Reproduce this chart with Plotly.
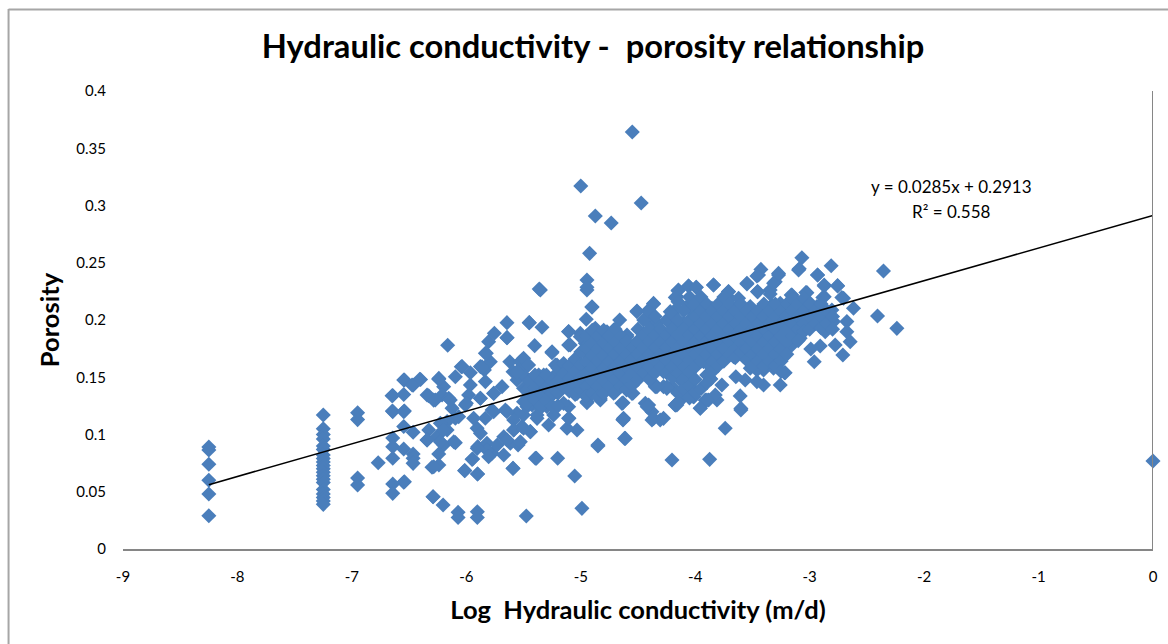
import plotly.graph_objects as go

title = "Hydraulic conductivity -\u00a0 porosity relationship"
x_title = "Log\u00a0 Hydraulic conductivity (m/d)"
y_title = "Porosity"
x_ticks = [-9, -8, -7, -6, -5, -4, -3, -2, -1, 0]
y_ticks = [0, 0.05, 0.1, 0.15, 0.2, 0.25, 0.3, 0.35, 0.4]
y_tick_labels = ["0", "0.05", "0.1", "0.15", "0.2", "0.25", "0.3", "0.35", "0.4"]
trend_x = [-8.25, 0]
trend_y = [0.0562, 0.2913]

column_m825 = [.089, .0865, .074, .060, .048, .029]
column_m725 = [.117, .105, .100, .096, .090, .087, .082, .079, .076, .073, .070, .067,
               .064, .061, .058, .052, .048, .045, .042, .039]
column_m695 = [.119, .113, .062, .056]

outliers = [(-4.55, .3642), (-5, .317), (-4.873, .2908), (-4.734, .2847), (-4.472, .3022),
            (0, .0769), (-5.363, .2271), (-2.355, .2428), (-2.407, .2035), (-2.238, .1927)]

low_k = [(-6.77, .0754), (-6.643, .134), (-6.547, .1476), (-6.40, .148), (-6.465, .143), (-6.547, .135),
         (-6.643, .120), (-6.547, .120), (-6.547, .107), (-6.465, .102), (-6.643, .097), (-6.643, .0894),
         (-6.547, .0874), (-6.643, .0792), (-6.465, .083), (-6.465, .0792), (-6.465, .0748), (-6.547, .0583),
         (-6.643, .0568), (-6.643, .0486), (-6.29, .0457), (-6.203, .0385), (-6.072, .032), (-6.072, .0275),
         (-5.904, .0326), (-5.904, .0275), (-5.476, .0288), (-6.24, .149), (-6.096, .1505), (-6.037, .1593),
         (-5.965, .154), (-6.163, .178), (-6.343, .1345), (-6.285, .130), (-6.198, .1418), (-6.212, .1345),
         (-6.154, .1316), (-6.125, .123), (-6.008, .1258), (-5.98, .1345), (-5.965, .1433), (-5.877, .1316),
         (-6.096, .1142), (-6.168, .1113), (-6.328, .104), (-6.343, .0952), (-6.256, .098), (-6.168, .104),
         (-6.198, .0909), (-6.096, .0929), (-6.241, .083), (-6.30, .0714), (-6.24, .0734), (-6.014, .0685),
         (-5.903, .0655), (-5.944, .0786), (-5.90, .0894), (-5.82, .0923), (-5.775, .0836), (-5.673, .0821),
         (-5.548, .0909), (-5.592, .0705), (-5.397, .0792), (-5.906, .1054), (-5.877, .101), (-5.834, .1142),
         (-5.936, .1142), (-5.775, .1214), (-5.659, .1214), (-5.688, .1418), (-5.76, .136), (-5.834, .1462),
         (-5.842, .1564), (-5.877, .1593), (-5.79, .1636), (-5.834, .171), (-5.805, .1811), (-5.755, .1884),
         (-5.644, .1846), (-5.62, .1636), (-5.513, .165), (-5.47, .1607), (-5.592, .1549), (-5.403, .1776),
         (-5.557, .1476), (-5.44, .1476), (-5.50, .1404), (-5.368, .152), (-5.50, .1287), (-5.557, .1185),
         (-5.426, .1258), (-5.586, .1127), (-5.673, .098), (-5.586, .104), (-5.513, .1069), (-5.44, .1025),
         (-5.615, .0923), (-5.50, .117), (-6.227, .1098), (-5.82, .0865), (-5.73, .0909), (-5.382, .117),
         (-5.645, .1977), (-5.45, .1977), (-5.645, .1846), (-5.825, .1709), (-6.044, .1592), (-5.863, .1592),
         (-6.407, .1482), (-6.541, .1476), (-6.474, .1432), (-6.649, .1339), (-6.646, .1205), (-6.541, .1205),
         (-6.241, .1482), (-6.329, .1339), (-6.271, .1301), (-6.14, .1301), (-5.878, .1316), (-5.761, .1359),
         (-6, .1272), (-6.067, .1156), (-5.761, .1199), (-5.645, .1199), (-6.291, .0457), (-6.541, .0588),
         (-6.285, .0719), (-5.905, .0879), (-5.95, .0783), (-6.11, .0937), (-6.227, .0937), (-6.343, .0952),
         (-6.2, .104), (-5.644, .0952), (-5.586, .1039), (-5.805, .0806), (-5.592, .0704), (-5.388, .0792),
         (-5.202, .0792), (-5.053, .0637), (-4.99, .0355), (-6.014, .0684), (-5.901, .0655)]

mid_band = [(-5.353, .2262), (-5.45, .1977), (-5.339, .1936), (-4.902, .2116), (-4.952, .2006), (-4.946, .2262),
            (-4.66, .2), (-5.106, .19), (-5.004, .1884), (-4.873, .1927), (-4.771, .1898), (-4.596, .1869),
            (-5.106, .1782), (-5.251, .1723), (-5.033, .1636), (-5.222, .1607), (-4.96, .1796), (-4.858, .1825),
            (-4.742, .181), (-4.655, .1796), (-4.946, .1694), (-4.829, .1709), (-4.713, .1694), (-4.596, .1709),
            (-4.509, .181), (-4.509, .2073), (-4.407, .2087), (-4.364, .214), (-4.407, .1985), (-4.334, .1971),
            (-4.451, .1884), (-4.334, .1854), (-4.218, .1898), (-4.218, .2073), (-4.16, .2102), (-4.058, .2131),
            (-3.927, .2116), (-4.16, .2204), (-4.1, .1971), (-3.985, .1985), (-3.87, .2015), (-3.81, .1971),
            (-4.306, .1738), (-4.422, .1767), (-4.189, .1782), (-4.072, .1796), (-3.956, .1825), (-3.825, .1854),
            (-4.072, .168), (-3.956, .1709), (-3.81, .1738), (-4.247, .1665), (-4.364, .1622), (-4.48, .1592),
            (-4.625, .1563), (-4.742, .1563), (-4.858, .1563), (-4.975, .1549), (-5.091, .1534), (-5.208, .1534),
            (-5.324, .152), (-5.528, .1636), (-5.484, .1592), (-5.484, .1505), (-5.47, .1389), (-5.382, .1418),
            (-5.193, .1418), (-5.295, .1389), (-4.975, .1447), (-4.858, .1432), (-4.742, .1447), (-4.625, .1476),
            (-4.509, .1476), (-4.393, .1563), (-4.277, .1549), (-4.16, .1563), (-4.043, .1578), (-3.927, .1636),
            (-4.043, .1476), (-4.131, .1476), (-4.349, .1418), (-4.277, .1418), (-4.203, .1418), (-4.101, .1374),
            (-4.014, .133), (-4.16, .1258), (-3.956, .1229), (-3.883, .1301), (-3.81, .1301), (-4.436, .1272),
            (-4.378, .1199), (-4.378, .1127), (-4.306, .1127), (-4.631, .1278), (-4.544, .136), (-4.946, .1287),
            (-4.829, .1301), (-4.713, .136), (-4.631, .1132), (-5.033, .1039), (-5.12, .1054), (-5.106, .1141),
            (-5.106, .1243), (-5.281, .1083), (-5.382, .1141), (-5.441, .1025), (-5.5, .1054), (-5.528, .0937),
            (-5.47, .1243), (-5.353, .1229), (-5.237, .117), (-5.15, .1272), (-5.266, .133), (-4.617, .0966),
            (-4.85, .0908), (-5.033, .136), (-3.869, .149), (-3.854, .2102), (-4.923, .2582), (-4.946, .2349),
            (-4.946, .2285), (-4.902, .2111), (-5.106, .1898), (-5.252, .1715), (-5.092, .1782), (-5.5, .1665),
            (-5.456, .1607), (-5.557, .1549), (-5.208, .1607), (-5.47, .1272), (-5.354, .1301), (-5.237, .1359),
            (-5.121, .1418), (-5.004, .1476), (-4.888, .1534), (-4.771, .1563), (-4.655, .1622), (-4.538, .1622),
            (-4.422, .1651), (-4.306, .168), (-4.19, .1709), (-4.073, .168), (-3.985, .1738), (-4.509, .2079),
            (-4.378, .2014), (-4.166, .2204), (-4.146, .2262), (-4.058, .2297), (-3.991, .2285), (-5.004, .1854),
            (-4.888, .1913), (-4.713, .1913), (-4.597, .1854), (-4.859, .1796), (-4.713, .1796), (-4.83, .165),
            (-4.713, .168), (-4.48, .1738), (-4.335, .1825), (-4.19, .1884), (-4.044, .1942), (-4.044, .2087),
            (-4.19, .1942), (-3.956, .2), (-4.946, .1278), (-4.83, .1316), (-4.64, .1272), (-4.553, .1359),
            (-4.407, .1258), (-4.35, .1432), (-4.248, .1403), (-4.175, .1258), (-4.015, .133), (-4.626, .1141),
            (-4.364, .1141), (-4.277, .1141), (-5.034, .1359), (-4.888, .1418), (-4.713, .1447), (-4.538, .1476),
            (-4.393, .1563), (-4.218, .1592), (-4.044, .1592), (-5.103, .1141), (-5.295, .1243), (-4.85, .09),
            (-4.631, .1126), (-4.611, .0966), (-4.203, .0777), (-3.874, .0783)]

high_k = [(-3.84, .2306), (-3.548, .2321), (-3.447, .2393), (-3.272, .2393), (-3.455, .2248), (-3.345, .2262),
          (-3.301, .2335), (-3.097, .2437), (-2.931, .2393), (-2.873, .2306), (-2.756, .23), (-3.709, .2248),
          (-3.7, .219), (-3.155, .2219), (-3.024, .2239), (-2.873, .2204), (-2.704, .219), (-2.617, .2102),
          (-2.675, .1986), (-2.675, .1898), (-2.646, .1811), (-2.777, .1782), (-2.71, .1695), (-2.864, .1898),
          (-2.908, .1773), (-2.99, .1747), (-2.96, .1636), (-3.083, .184), (-3.17, .1767), (-3.22, .154),
          (-3.257, .1433), (-3.403, .1433), (-3.461, .1462), (-3.563, .1476), (-3.645, .1505), (-3.403, .1564),
          (-3.519, .1578), (-3.607, .1337), (-3.601, .1214), (-3.767, .1433), (-3.825, .1345), (-3.912, .13),
          (-3.956, .1229), (-3.863, .1485), (-3.738, .1054), (-3.752, .1709), (-3.665, .168), (-3.578, .168),
          (-3.461, .168), (-3.257, .168), (-3.374, .1651), (-3.869, .1593), (-3.927, .168), (-3.869, .1738),
          (-3.781, .1797), (-3.665, .1782), (-3.519, .1782), (-3.374, .1767), (-3.272, .1797), (-3.752, .1913),
          (-3.636, .2), (-3.519, .1913), (-3.403, .1884), (-3.257, .1884), (-3.869, .1942), (-3.898, .2059),
          (-3.781, .2088), (-3.636, .2117), (-3.519, .2117), (-3.403, .2059), (-3.286, .2102), (-3.17, .2044),
          (-3.053, .2088), (-2.937, .2117), (-2.806, .2088), (-2.792, .1986), (-2.937, .1986), (-3.053, .1957),
          (-3.17, .1942), (-2.995, .2146), (-3.112, .216), (-3.257, .2146), (-3.33, .2131), (-3.621, .219),
          (-3.781, .2146), (-3.316, .1578), (-3.068, .2544), (-3.091, .2448), (-2.812, .2474), (-2.931, .2393),
          (-2.873, .2297), (-2.756, .2297), (-3.426, .2442), (-3.461, .2384), (-3.548, .2314), (-3.84, .2305),
          (-4.058, .2297), (-3.991, .2285), (-4.151, .2256), (-4.174, .2197), (-4.364, .2145), (-3.272, .2407),
          (-3.315, .232), (-3.345, .2227), (-3.455, .2247), (-3.709, .2247), (-3.161, .2218), (-3.033, .224),
          (-2.885, .2197), (-2.719, .2197), (-3.214, .154), (-3.461, .1563), (-3.601, .1228), (-3.898, .13),
          (-4.1, .133), (-4.174, .1257), (-4.014, .133), (-4.247, .1417), (-4.335, .1417), (-4.42, .1243)]

core_columns = [
    (-5.45, [.147, .136]), (-5.40, [.152, .141, .13]), (-5.35, [.147, .136, .125]), (-5.30, [.152, .141, .13]),
    (-5.25, [.147, .136, .125]), (-5.20, [.158, .147, .136, .125]), (-5.15, [.162, .153, .142]),
    (-5.10, [.16, .149, .138]), (-5.05, [.166, .155, .144, .135]), (-5.00, [.172, .161, .15, .139]),
    (-4.95, [.186, .175, .164, .153, .142, .133]), (-4.90, [.191, .18, .169, .158, .147, .136]),
    (-4.85, [.186, .175, .164, .153, .142, .133]), (-4.80, [.191, .18, .169, .158, .147, .136]),
    (-4.75, [.186, .175, .164, .153, .142]), (-4.70, [.192, .181, .17, .159, .148, .137]),
    (-4.65, [.186, .175, .164, .153, .142]), (-4.60, [.181, .17, .159, .148, .139]),
    (-4.55, [.176, .165, .154, .143]), (-4.50, [.192, .181, .17, .159, .148]),
    (-4.45, [.2, .187, .176, .165, .154]), (-4.40, [.207, .192, .181, .17, .159, .148]),
    (-4.35, [.203, .187, .176, .165, .154]), (-4.30, [.192, .181, .17, .159]),
    (-4.25, [.2, .187, .176, .165, .154]), (-4.20, [.205, .192, .181, .17, .159, .15]),
    (-4.15, [.216, .2, .187, .176, .165, .154, .136, .128]), (-4.10, [.208, .192, .181, .17, .159, .148, .14]),
    (-4.05, [.22, .2, .187, .176, .165, .154, .143, .132]), (-4.00, [.214, .203, .192, .181, .17, .159, .148, .137]),
    (-3.95, [.22, .208, .197, .186, .175, .164, .14]), (-3.90, [.214, .203, .192, .181, .17, .152, .145]),
    (-3.85, [.208, .197, .186, .175, .164, .155]), (-3.80, [.214, .203, .192, .181, .17, .16]),
    (-3.75, [.22, .208, .197, .186, .175, .164]), (-3.70, [.214, .203, .192, .181, .17]),
    (-3.65, [.208, .197, .186, .175, .167]), (-3.60, [.214, .203, .192, .181, .172]),
    (-3.55, [.208, .197, .186, .175, .165]), (-3.50, [.203, .192, .181, .17, .16]),
    (-3.45, [.208, .197, .186, .175, .164]), (-3.40, [.214, .203, .192, .181, .17, .16]),
    (-3.35, [.208, .197, .186, .175, .164]), (-3.30, [.214, .203, .192, .181, .17, .16]),
    (-3.25, [.208, .197, .186, .175, .164, .155]), (-3.20, [.214, .203, .192, .181, .17]),
    (-3.15, [.219, .208, .197, .186]), (-3.10, [.214, .203, .192, .182]), (-3.05, [.219, .208, .197, .19]),
    (-3.00, [.214, .203, .192]), (-2.95, [.208, .197]), (-2.90, [.214, .203, .193]), (-2.85, [.208, .197]),
    (-2.80, [.203, .192]),
]

points = low_k + mid_band + high_k + outliers
log_k = [p[0] for p in points] + [-8.25] * len(column_m825) + [-7.25] * len(column_m725) + [-6.95] * len(column_m695)
porosity = [p[1] for p in points] + column_m825 + column_m725 + column_m695
for col_x, col_ys in core_columns:
    log_k += [col_x] * len(col_ys)
    porosity += col_ys

FONT = "Lato, Carlito, Calibri, sans-serif"
L, R, T, B = 122.5, 1153.0, 91.0, 549.0
W, H = 1168, 644

fig = go.Figure()
fig.add_trace(go.Scatter(x=log_k, y=porosity, mode="markers", showlegend=False, cliponaxis=False,
                         marker=dict(symbol="diamond", size=11.6, color="#4A7EBB", line=dict(width=0))))
fig.add_trace(go.Scatter(x=trend_x, y=trend_y, mode="lines", showlegend=False, cliponaxis=False,
                         line=dict(color="#000000", width=1.6)))

px = lambda v: (v - L) / (R - L)
py = lambda v: (B - v) / (B - T)
fig.update_layout(
    width=W, height=H, autosize=False,
    margin=dict(l=L, r=W - R, t=T, b=H - B, pad=0),
    paper_bgcolor="white", plot_bgcolor="white",
    font=dict(family=FONT, size=14, color="#000000"),
    title=dict(text="<b>" + title + "</b>", x=593 / W, y=1 - 47 / H, xanchor="center", yanchor="middle",
               font=dict(family=FONT, size=32.7, color="#000000")),
    xaxis=dict(range=[-9, 0], tickmode="array", tickvals=x_ticks, ticktext=[str(v) for v in x_ticks],
               showgrid=False, zeroline=False, showline=True, linecolor="#868686", linewidth=2, ticks="",
               ticklabelstandoff=13, tickfont=dict(family=FONT, size=15), automargin=False,
               title=dict(text="<b>" + x_title + "</b>", standoff=17, font=dict(family=FONT, size=25.5))),
    yaxis=dict(range=[0, 0.4], tickmode="array", tickvals=y_ticks, ticktext=y_tick_labels,
               showgrid=False, zeroline=False, showline=False, ticks="",
               ticklabelstandoff=16, tickfont=dict(family=FONT, size=15), automargin=False,
               title=dict(text="<b>" + y_title + "</b>", standoff=9, font=dict(family=FONT, size=25.5))),
    shapes=[
        dict(type="line", xref="x", yref="y", x0=0, x1=0, y0=0, y1=0.4, line=dict(color="#868686", width=2)),
        dict(type="line", xref="paper", yref="paper", x0=px(8), x1=px(8), y0=py(9), y1=py(H),
             line=dict(color="#A6A6A6", width=2)),
        dict(type="line", xref="paper", yref="paper", x0=px(8), x1=px(W), y0=py(9.5), y1=py(9.5),
             line=dict(color="#A6A6A6", width=2)),
    ],
    annotations=[
        dict(x=-1.764, y=0.3162, xref="x", yref="y", showarrow=False, text="y = 0.0285x + 0.2913",
             font=dict(family=FONT, size=17)),
        dict(x=-1.764, y=0.2952, xref="x", yref="y", showarrow=False, text="R\u00b2 = 0.558",
             font=dict(family=FONT, size=17)),
    ],
)
fig.write_html("out.html", config={"displayModeBar": False}, post_script="document.body.style.margin='0';")
